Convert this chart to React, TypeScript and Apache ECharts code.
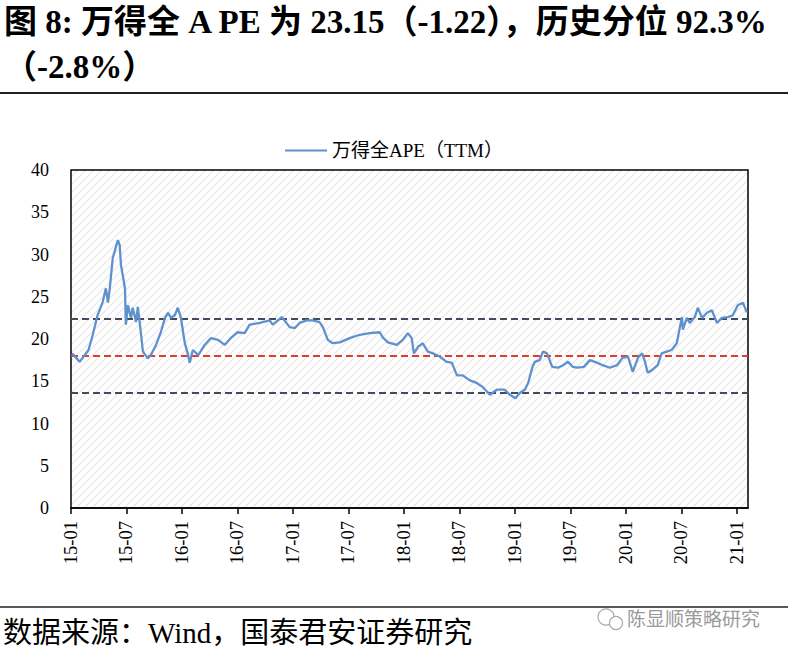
import React, { useEffect, useRef } from "react";
import * as echarts from "echarts";

const dates: string[] = [
  "2015-01-05","2015-01-30","2015-02-26","2015-03-12","2015-03-28","2015-04-14","2015-04-24","2015-05-01","2015-05-07","2015-05-17",
  "2015-06-03","2015-06-09","2015-06-13","2015-06-26","2015-06-29","2015-07-06","2015-07-16","2015-07-22","2015-08-02","2015-08-08",
  "2015-08-18","2015-08-25","2015-09-10","2015-09-20","2015-10-07","2015-10-23","2015-11-06","2015-11-16","2015-11-25","2015-12-08",
  "2015-12-18","2015-12-28","2016-01-10","2016-01-20","2016-01-27","2016-02-06","2016-02-23","2016-03-15","2016-04-05","2016-04-28",
  "2016-05-20","2016-06-09","2016-07-02","2016-07-25","2016-08-11","2016-09-13","2016-10-16","2016-10-26","2016-11-25","2016-12-21",
  "2017-01-07","2017-01-23","2017-02-15","2017-03-05","2017-03-28","2017-04-08","2017-04-24","2017-05-10","2017-06-03","2017-07-05",
  "2017-08-08","2017-09-10","2017-10-13","2017-10-23","2017-11-09","2017-12-08","2017-12-28","2018-01-14","2018-01-27","2018-02-03",
  "2018-02-16","2018-03-02","2018-03-19","2018-04-05","2018-04-28","2018-05-20","2018-06-06","2018-06-23","2018-07-12","2018-08-05",
  "2018-08-28","2018-09-17","2018-10-10","2018-11-02","2018-11-28","2018-12-15","2019-01-03","2019-01-17","2019-02-03","2019-02-13",
  "2019-02-26","2019-03-06","2019-03-22","2019-04-02","2019-04-15","2019-05-02","2019-05-21","2019-06-07","2019-06-23","2019-07-09",
  "2019-07-25","2019-08-15","2019-09-04","2019-09-27","2019-10-16","2019-11-09","2019-12-02","2019-12-21","2020-01-08","2020-01-24",
  "2020-02-10","2020-02-23","2020-03-03","2020-03-12","2020-03-25","2020-04-14","2020-04-27","2020-05-14","2020-05-30","2020-06-16",
  "2020-06-26","2020-07-03","2020-07-06","2020-07-19","2020-07-29","2020-08-15","2020-08-25","2020-09-08","2020-09-24","2020-10-10",
  "2020-10-27","2020-11-12","2020-12-02","2020-12-18","2021-01-04","2021-01-21","2021-02-03",
];

const peValues: number[] = [
  18.3,17.3,18.7,20.5,22.8,24.4,26.0,24.3,26.0,29.6,
  31.7,31.1,28.8,26.0,21.7,24.0,22.5,23.7,22.0,23.8,
  20.8,18.5,17.7,18.1,19.3,20.8,22.5,23.1,22.5,22.8,
  23.7,22.6,19.6,18.3,17.2,18.7,18.1,19.3,20.1,19.9,
  19.3,20.1,20.8,20.7,21.7,21.9,22.2,21.7,22.6,21.4,
  21.3,21.9,22.2,22.2,22.0,21.4,19.9,19.5,19.6,20.1,
  20.5,20.7,20.8,20.2,19.6,19.3,19.9,20.7,20.1,18.3,
  19.1,19.5,18.5,18.3,17.9,17.3,17.2,15.7,15.7,15.1,
  14.8,14.3,13.4,14.0,14.0,13.4,13.0,13.6,14.0,14.8,
  16.7,17.3,17.5,18.5,18.3,16.7,16.6,16.9,17.3,16.7,
  16.6,16.7,17.5,17.2,16.9,16.6,16.9,17.8,17.9,16.1,
  17.8,18.3,17.3,16.0,16.3,16.9,18.3,18.5,18.7,19.5,
  21.4,22.6,21.1,22.5,21.9,22.6,23.7,22.5,23.1,23.4,
  21.9,22.5,22.6,22.8,24.0,24.3,23.15,
];

const xTickLabels: string[] = ["15-01","15-07","16-01","16-07","17-01","17-07","18-01","18-07","19-01","19-07","20-01","20-07","21-01"];
const yTicks: number[] = [0, 5, 10, 15, 20, 25, 30, 35, 40];
const refLines: number[] = [22.37, 17.99, 13.61]; // +1std, mean, -1std
const seriesName = "万得全APE（TTM）";
const titleLine1 = "图 8: 万得全 A PE 为 23.15（-1.22），历史分位 92.3%";
const titleLine2 = "（-2.8%）";
const footerText = "数据来源：Wind，国泰君安证券研究";
const watermarkText = "陈显顺策略研究";

function monthIndex(d: string): number {
  const [y, m, day] = d.split("-").map(Number);
  const dim = new Date(y, m, 0).getDate();
  return (y - 2015) * 12 + (m - 1) + (day - 1) / dim;
}

function makeHatch(): HTMLCanvasElement {
  const c = document.createElement("canvas");
  c.width = 8;
  c.height = 8;
  const ctx = c.getContext("2d")!;
  ctx.fillStyle = "#ffffff";
  ctx.fillRect(0, 0, 8, 8);
  ctx.strokeStyle = "#e6e6e6";
  ctx.lineWidth = 1.1;
  ctx.beginPath();
  ctx.moveTo(-1, 9); ctx.lineTo(9, -1);
  ctx.moveTo(-5, 5); ctx.lineTo(5, -5);
  ctx.moveTo(3, 13); ctx.lineTo(13, 3);
  ctx.stroke();
  return c;
}

const SERIF = '"Liberation Serif", "Times New Roman", "Noto Sans CJK SC", serif';

export default function App() {
  const ref = useRef<HTMLDivElement>(null);
  useEffect(() => {
    if (!ref.current) return;
    const chart = echarts.init(ref.current, undefined, { renderer: "svg" });
    const data = dates.map((d, i) => [monthIndex(d), peValues[i]]);
    const tickVals = xTickLabels.map((_, i) => i * 6);
    const dark = "#414b5c";
    const red = "#e23a2c";
    chart.setOption({
      animation: false,
      backgroundColor: "#ffffff",
      textStyle: { fontFamily: SERIF },
      legend: {
        top: 136,
        left: "center",
        itemWidth: 42,
        itemHeight: 10,
        itemGap: 6,
        textStyle: { fontFamily: SERIF, fontSize: 19, color: "#000" },
        data: [{ name: seriesName, icon: "path://M0,0 L42,0 L42,2.2 L0,2.2 Z" }],
      },
      grid: {
        left: 71,
        right: 40,
        top: 170,
        bottom: 144,
        show: true,
        borderColor: "#000",
        borderWidth: 1.5,
        backgroundColor: { image: makeHatch(), repeat: "repeat" },
      },
      xAxis: {
        type: "value",
        min: 0,
        max: 73.2,
        interval: 6,
        splitLine: { show: false },
        axisLine: { show: true, lineStyle: { color: "#000", width: 1.5 } },
        axisTick: { show: true, length: 6, lineStyle: { color: "#000", width: 1.5 }, customValues: tickVals },
        axisLabel: {
          rotate: 90,
          margin: 13,
          fontFamily: SERIF,
          fontSize: 18.5,
          color: "#000",
          customValues: tickVals,
          formatter: (v: number) => {
            const i = Math.round(v / 6);
            return Math.abs(v - i * 6) < 1e-6 && xTickLabels[i] ? xTickLabels[i] : "";
          },
        },
      },
      yAxis: {
        type: "value",
        min: 0,
        max: 40,
        interval: 5,
        splitLine: { show: false },
        axisLine: { show: false },
        axisTick: { show: false },
        axisLabel: {
          margin: 22,
          fontFamily: SERIF,
          fontSize: 18,
          color: "#000",
          formatter: (v: number) => (yTicks.includes(v) ? String(v) : ""),
        },
      },
      series: [
        {
          name: seriesName,
          type: "line",
          data,
          symbol: "none",
          lineStyle: { color: "#5f91cf", width: 2.3 },
          itemStyle: { color: "#5f91cf" },
          z: 3,
          markLine: {
            silent: true,
            symbol: ["none", "none"],
            label: { show: false },
            z: 2,
            data: refLines.map((v, i) => ({
              yAxis: v,
              lineStyle: { color: i === 1 ? red : dark, type: [7, 4], width: 2 },
            })),
          },
        },
      ],
      graphic: [
        {
          type: "text",
          left: 4,
          top: 5,
          style: { text: titleLine1, font: `bold 33px ${SERIF}`, fill: "#000" },
        },
        {
          type: "text",
          left: 4,
          top: 50,
          style: { text: titleLine2, font: `bold 33px ${SERIF}`, fill: "#000" },
        },
        {
          type: "line",
          shape: { x1: 0, y1: 93, x2: 788, y2: 93 },
          style: { stroke: "#222", lineWidth: 2 },
        },
        {
          type: "line",
          shape: { x1: 0, y1: 607, x2: 788, y2: 607 },
          style: { stroke: "#222", lineWidth: 1.5 },
        },
        {
          type: "text",
          left: 3,
          top: 618,
          style: { text: footerText, font: `29px ${SERIF}`, fill: "#000" },
        },
        {
          type: "circle",
          shape: { cx: 606, cy: 617, r: 8 },
          style: { fill: "none", stroke: "#aaa", lineWidth: 1.2 },
        },
        {
          type: "circle",
          shape: { cx: 616, cy: 623, r: 6.5 },
          style: { fill: "#fff", stroke: "#aaa", lineWidth: 1.2 },
        },
        {
          type: "text",
          left: 627,
          top: 608,
          style: { text: watermarkText, font: `19px "Noto Sans CJK SC", sans-serif`, fill: "#9a9a9a" },
        },
      ],
    });
    return () => chart.dispose();
  }, []);
  return (
    <div
      ref={ref}
      style={{ position: "fixed", left: 0, top: 0, width: 788, height: 652 }}
    />
  );
}
